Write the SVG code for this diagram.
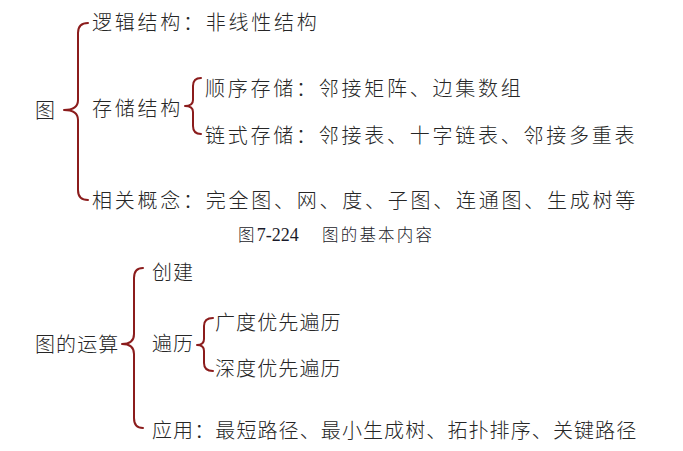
<svg xmlns="http://www.w3.org/2000/svg" width="683" height="451" viewBox="0 0 683 451">
<style>
.t{font-family:"Noto Sans CJK SC","Noto Sans CJK JP",sans-serif;font-size:20px;font-weight:300;fill:#262626;letter-spacing:2.75px}
.l{font-family:"Noto Sans CJK SC","Noto Sans CJK JP",sans-serif;font-size:20px;font-weight:300;fill:#262626;letter-spacing:1.1px}
.cap{font-family:"Liberation Serif","Noto Sans CJK SC",serif;font-size:18px;fill:#1a1a2a}
.capc{font-family:"Noto Sans CJK SC",sans-serif;font-size:16.5px;font-weight:300;fill:#1a1a2a;letter-spacing:2.2px}
.b{fill:none;stroke:#8b1c1c;stroke-width:2;stroke-linecap:round;stroke-linejoin:round}
</style>
<rect width="683" height="451" fill="#fff"/>
<g id="connectors">
<path class="b" d="M88 23 Q78 23 78 33 L78 100 Q78 110 64 110 Q78 110 78 120 L78 190 Q78 200 88 200"/>
<path class="b" d="M201 78 Q193 78 193 86 L193 100 Q193 106 185 106 Q193 106 193 112 L193 126 Q193 134 201 134"/>
<path class="b" d="M143 268 Q134 268 134 278 L134 334 Q134 344 122 344 Q134 344 134 354 L134 418 Q134 428 143 428"/>
<path class="b" d="M213 318 Q204 318 204 326 L204 339 Q204 345 197 345 Q204 345 204 351 L204 363 Q204 371 213 371"/>
</g>
<g id="root1"><text class="t" x="35" y="118">图</text></g>
<g id="logic"><text class="t" x="92" y="30">逻辑结构：非线性结构</text></g>
<g id="storage"><text class="t" x="92" y="116">存储结构</text></g>
<g id="seq"><text class="t" x="205" y="96">顺序存储：邻接矩阵、边集数组</text></g>
<g id="link"><text class="t" x="205" y="143">链式存储：邻接表、十字链表、邻接多重表</text></g>
<g id="concept"><text class="t" x="92" y="208">相关概念：完全图、网、度、子图、连通图、生成树等</text></g>
<g id="caption"><text x="238" y="241"><tspan class="capc">图</tspan><tspan class="cap">7-224</tspan><tspan class="capc" x="322">图的基本内容</tspan></text></g>
<g id="root2"><text class="l" x="35" y="352">图的运算</text></g>
<g id="create"><text class="l" x="152" y="280">创建</text></g>
<g id="traverse"><text class="l" x="152" y="351">遍历</text></g>
<g id="bfs"><text class="l" x="215" y="330">广度优先遍历</text></g>
<g id="dfs"><text class="l" x="215" y="376">深度优先遍历</text></g>
<g id="apply"><text class="l" x="152" y="438">应用：最短路径、最小生成树、拓扑排序、关键路径</text></g>
</svg>
